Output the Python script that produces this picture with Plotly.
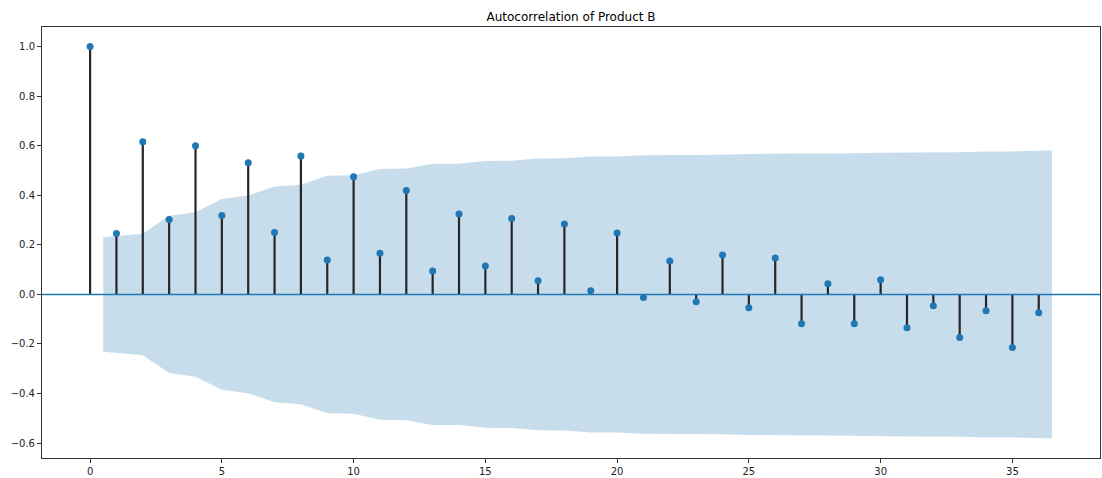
import plotly.graph_objects as go

lags = list(range(37))
acf_values = [1.0, 0.246, 0.616, 0.302, 0.600, 0.318, 0.531, 0.250, 0.559, 0.139,
              0.475, 0.166, 0.419, 0.095, 0.324, 0.115, 0.306, 0.055, 0.284, 0.015,
              0.248, -0.012, 0.135, -0.030, 0.159, -0.054, 0.147, -0.118, 0.043, -0.118,
              0.059, -0.134, -0.046, -0.174, -0.066, -0.214, -0.074]
# confidence band half-width for lags 1..36
conf_half = [0.231, 0.245, 0.317, 0.332, 0.385, 0.399, 0.435, 0.443, 0.479, 0.481,
             0.506, 0.508, 0.527, 0.527, 0.538, 0.539, 0.548, 0.549, 0.557, 0.557,
             0.562, 0.562, 0.564, 0.564, 0.567, 0.567, 0.569, 0.570, 0.570, 0.572,
             0.572, 0.574, 0.574, 0.577, 0.577, 0.581]
title = "Autocorrelation of Product B"
C0 = "#1f77b4"

band_x = [float(v) for v in lags[1:]]
band_x[0] -= 0.5
band_x[-1] += 0.5
upper = conf_half
lower = [-v for v in conf_half]

fig = go.Figure()
# band
fig.add_trace(go.Scatter(x=band_x, y=lower, mode="lines", line=dict(width=0),
                         hoverinfo="skip", showlegend=False))
fig.add_trace(go.Scatter(x=band_x, y=upper, mode="lines", line=dict(width=0),
                         fill="tonexty", fillcolor="rgba(31,119,180,0.25)",
                         hoverinfo="skip", showlegend=False))
# stems
sx, sy = [], []
for l, v in zip(lags, acf_values):
    sx += [l, l, None]
    sy += [0, v, None]
fig.add_trace(go.Scatter(x=sx, y=sy, mode="lines", line=dict(color="#262626", width=2.2),
                         showlegend=False))
# zero line
fig.add_hline(y=0, line=dict(color=C0, width=1.5))
# markers
fig.add_trace(go.Scatter(x=lags, y=acf_values, mode="markers",
                         marker=dict(color=C0, size=7), showlegend=False))

xmin = 0 - 0.05 * (band_x[-1] - 0)
xmax = band_x[-1] + 0.05 * (band_x[-1] - 0)
ymin_d, ymax_d = min(lower), max(acf_values)
span = ymax_d - ymin_d
fig.update_layout(
    width=1102, height=478,
    margin=dict(l=42, r=1, t=27, b=17),
    plot_bgcolor="white", paper_bgcolor="white",
    font=dict(family="DejaVu Sans", size=10, color="#222"),
    title=dict(text=title, x=0.5, xanchor="center", xref="paper",
               y=1 - 17/478, yanchor="middle", font=dict(size=12, color="#000")),
    showlegend=False,
)
axis_common = dict(showgrid=False, zeroline=False, showline=True, mirror=True,
                   linecolor="#333", linewidth=1, ticks="outside", ticklen=4,
                   tickcolor="#333", tickfont=dict(size=10, color="#222"))
fig.update_xaxes(range=[xmin, xmax], tickvals=[0, 5, 10, 15, 20, 25, 30, 35], **axis_common)
fig.update_yaxes(range=[ymin_d - 0.05 * span, ymax_d + 0.05 * span],
                 tickvals=[-0.6, -0.4, -0.2, 0.0, 0.2, 0.4, 0.6, 0.8, 1.0],
                 tickformat=".1f", **axis_common)

fig.write_html("out.html", config={"displayModeBar": False},
               post_script="document.body.style.margin='0';document.body.style.overflow='hidden';")
